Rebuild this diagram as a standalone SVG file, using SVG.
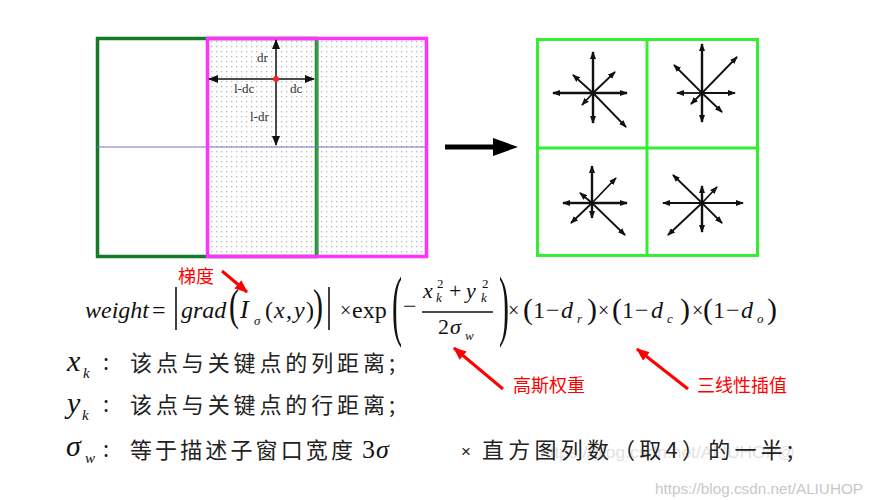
<svg xmlns="http://www.w3.org/2000/svg" width="879" height="500" viewBox="0 0 879 500">
<style>
.m{font-family:"Liberation Serif","Times New Roman",serif;font-size:24px;fill:#111}
.i{font-style:italic}
.s{font-size:13px}
.v{font-size:30px}
.vs{font-size:15px}
.cj{font-family:"Noto Sans CJK SC",sans-serif;font-size:22px;fill:#222}
.red{font-family:"Noto Sans CJK SC",sans-serif;font-size:18px;fill:#f00}
.lbl{font-family:"Liberation Serif",serif;font-size:13px;fill:#333}
.st line{stroke:#111;stroke-width:1.8;marker-end:url(#ah)}
.ra{stroke:#f00;stroke-width:3;marker-end:url(#rh)}
.ia{stroke:#111;stroke-width:1.5;marker-end:url(#bh)}
</style>
<defs>
<pattern id="dots" width="5" height="5" patternUnits="userSpaceOnUse">
<rect x="1" y="1" width="1.3" height="1.3" fill="#b8b8b8"/>
</pattern>
<marker id="ah" viewBox="0 0 8 6" refX="7" refY="3" markerWidth="8" markerHeight="6" markerUnits="userSpaceOnUse" orient="auto"><path d="M0,0 L8,3 L0,6 z" fill="#111"/></marker>
<marker id="bh" viewBox="0 0 10 8" refX="9" refY="4" markerWidth="10" markerHeight="8" markerUnits="userSpaceOnUse" orient="auto"><path d="M0,0 L10,4 L0,8 z" fill="#111"/></marker>
<marker id="rh" viewBox="0 0 12 10" refX="11" refY="5" markerWidth="13" markerHeight="11" markerUnits="userSpaceOnUse" orient="auto"><path d="M0,0 L12,5 L0,10 z" fill="#f00"/></marker>
</defs>
<rect width="879" height="500" fill="#fff"/>

<g id="left-grid">
<rect x="97.5" y="38.5" width="219" height="218" fill="#fff" stroke="#157a28" stroke-width="3.5"/>
<rect x="207" y="38" width="220" height="219" fill="url(#dots)"/>
<line x1="317" y1="40" x2="317" y2="255" stroke="#3c9a4a" stroke-width="3"/>
<line x1="97" y1="147" x2="427" y2="147" stroke="#7070cc" stroke-width="1"/>
<rect x="207.5" y="38.5" width="219" height="218" fill="none" stroke="#ff33ff" stroke-width="3.5"/>
<line class="ia" x1="276" y1="79" x2="276" y2="40"/>
<line class="ia" x1="276" y1="79" x2="276" y2="145"/>
<line class="ia" x1="276" y1="79" x2="209" y2="79"/>
<line class="ia" x1="276" y1="79" x2="314" y2="79"/>
<circle cx="276" cy="79" r="3" fill="#f22"/>
<text class="lbl" x="257" y="62">dr</text>
<text class="lbl" x="234" y="93">l-dc</text>
<text class="lbl" x="290" y="93">dc</text>
<text class="lbl" x="250" y="121">l-dr</text>
</g>

<g id="big-arrow">
<rect x="445" y="144.5" width="50" height="5" fill="#000"/>
<polygon points="493,138 518,147 493,156" fill="#000"/>
</g>

<g id="right-grid">
<rect x="537.5" y="39.5" width="220" height="216" fill="#fff" stroke="#33ee33" stroke-width="3"/>
<line x1="647" y1="39" x2="647" y2="256" stroke="#33ee33" stroke-width="3"/>
<line x1="537" y1="148" x2="758" y2="148" stroke="#33ee33" stroke-width="3"/>
<g class="st">
<line x1="593" y1="93" x2="553" y2="93" style="stroke-width:2.4"/>
<line x1="593" y1="93" x2="627" y2="93" style="stroke-width:2.4"/>
<line x1="593" y1="93" x2="593" y2="52" style="stroke-width:2.4"/>
<line x1="593" y1="93" x2="593" y2="123" style="stroke-width:2.4"/>
<line x1="593" y1="93" x2="615" y2="72"/>
<line x1="593" y1="93" x2="573" y2="75"/>
<line x1="593" y1="93" x2="582" y2="105"/>
<line x1="593" y1="93" x2="626" y2="127"/>
</g>
<g class="st">
<line x1="702" y1="93" x2="677" y2="93"/>
<line x1="702" y1="93" x2="735" y2="93"/>
<line x1="702" y1="93" x2="702" y2="44" style="stroke-width:2.4"/>
<line x1="702" y1="93" x2="702" y2="122" style="stroke-width:2.4"/>
<line x1="702" y1="93" x2="737" y2="57"/>
<line x1="702" y1="93" x2="674" y2="65"/>
<line x1="702" y1="93" x2="691" y2="104"/>
<line x1="702" y1="93" x2="722" y2="112"/>
</g>
<g class="st">
<line x1="592" y1="203" x2="563" y2="203" style="stroke-width:2.4"/>
<line x1="592" y1="203" x2="627" y2="203" style="stroke-width:2.4"/>
<line x1="592" y1="203" x2="592" y2="166" style="stroke-width:2.4"/>
<line x1="592" y1="203" x2="592" y2="218" style="stroke-width:2.4"/>
<line x1="592" y1="203" x2="616" y2="178"/>
<line x1="592" y1="203" x2="580" y2="193"/>
<line x1="592" y1="203" x2="571" y2="223"/>
<line x1="592" y1="203" x2="625" y2="235"/>
</g>
<g class="st">
<line x1="702" y1="203" x2="663" y2="203"/>
<line x1="702" y1="203" x2="743" y2="203"/>
<line x1="702" y1="203" x2="702" y2="186" style="stroke-width:2.4"/>
<line x1="702" y1="203" x2="702" y2="232" style="stroke-width:2.4"/>
<line x1="702" y1="203" x2="717" y2="187"/>
<line x1="702" y1="203" x2="673" y2="175"/>
<line x1="702" y1="203" x2="668" y2="235"/>
<line x1="702" y1="203" x2="722" y2="223"/>
</g>
</g>

<g id="formula">
<text class="m i" x="85" y="318">weight</text>
<text class="m" x="152" y="318">=</text>
<line x1="176" y1="287" x2="176" y2="330" stroke="#111" stroke-width="1.6"/>
<text class="m i" x="181" y="318">grad</text>
<text class="m" transform="translate(229,320) scale(1,1.45)" style="font-size:30px">(</text>
<text class="m i" x="240" y="318" style="font-size:26px">I</text>
<text class="m i s" x="254" y="325">σ</text>
<text class="m" x="265" y="318">(</text>
<text class="m i" x="274" y="318">x</text>
<text class="m" x="286" y="318">,</text>
<text class="m i" x="294" y="318">y</text>
<text class="m" x="306" y="318">)</text>
<text class="m" transform="translate(313,320) scale(1,1.45)" style="font-size:30px">)</text>
<line x1="329" y1="287" x2="329" y2="330" stroke="#111" stroke-width="1.6"/>
<text class="m" x="340" y="317" style="font-size:20px">×</text>
<text class="m" x="352" y="318">exp</text>
<text class="m" transform="translate(392,331) scale(1,2.6)" style="font-size:30px">(</text>
<text class="m" x="403" y="314">−</text>
<text class="m i" x="423" y="298" style="font-size:22px">x</text>
<text class="m i s" x="436" y="302">k</text>
<text class="m s" x="437" y="288">2</text>
<text class="m" x="449" y="298" style="font-size:22px">+</text>
<text class="m i" x="466" y="298" style="font-size:22px">y</text>
<text class="m i s" x="481" y="302">k</text>
<text class="m s" x="482" y="288">2</text>
<line x1="422" y1="312" x2="493" y2="312" stroke="#111" stroke-width="1.3"/>
<text class="m" x="438" y="334" style="font-size:22px">2</text>
<text class="m i" x="450" y="334" style="font-size:22px">σ</text>
<text class="m i s" x="465" y="340">w</text>
<text class="m" transform="translate(499,331) scale(1,2.6)" style="font-size:30px">)</text>
<text class="m" x="508" y="317" style="font-size:20px">×</text>
<text class="m" x="523" y="319" style="font-size:30px">(</text>
<text class="m" x="533" y="318">1</text>
<text class="m" x="546" y="318">−</text>
<text class="m i" x="561" y="318">d</text>
<text class="m i s" x="577" y="323">r</text>
<text class="m" x="587" y="319" style="font-size:30px">)</text>
<text class="m" x="598" y="317" style="font-size:20px">×</text>
<text class="m" x="612" y="319" style="font-size:30px">(</text>
<text class="m" x="622" y="318">1</text>
<text class="m" x="635" y="318">−</text>
<text class="m i" x="651" y="318">d</text>
<text class="m i s" x="667" y="323">c</text>
<text class="m" x="680" y="319" style="font-size:30px">)</text>
<text class="m" x="692" y="317" style="font-size:20px">×</text>
<text class="m" x="703" y="319" style="font-size:30px">(</text>
<text class="m" x="713" y="318">1</text>
<text class="m" x="726" y="318">−</text>
<text class="m i" x="741" y="318">d</text>
<text class="m i s" x="757" y="323">o</text>
<text class="m" x="767" y="319" style="font-size:30px">)</text>
</g>

<g id="annotations">
<text class="red" x="178" y="283">梯度</text>
<line class="ra" x1="222" y1="271" x2="247" y2="292"/>
<text class="red" x="513" y="392">高斯权重</text>
<line class="ra" x1="503" y1="389" x2="454" y2="348"/>
<text class="red" x="697" y="392">三线性插值</text>
<line class="ra" x1="688" y1="389" x2="637" y2="349"/>
</g>

<g id="notes">
<text x="540" y="458" font-family="Liberation Sans,Arial,sans-serif" font-size="17" fill="#e2e2e2" textLength="255" lengthAdjust="spacingAndGlyphs">https://blog.csdn.net/ALIUHOP@</text>
<text class="m i v" x="67" y="371">x</text>
<text class="m i vs" x="83" y="378">k</text>
<text class="cj" x="103" y="370">:</text>
<text class="cj" x="130" y="371" textLength="265" lengthAdjust="spacing">该点与关键点的列距离;</text>
<text class="m i v" x="67" y="413">y</text>
<text class="m i vs" x="82" y="420">k</text>
<text class="cj" x="103" y="412">:</text>
<text class="cj" x="130" y="413" textLength="265" lengthAdjust="spacing">该点与关键点的行距离;</text>
<text class="m i v" x="66" y="456">σ</text>
<text class="m i vs" x="85" y="463">w</text>
<text class="cj" x="103" y="457">:</text>
<text class="cj" x="130" y="458" textLength="223" lengthAdjust="spacing">等于描述子窗口宽度</text>
<text class="m" x="362" y="458" style="font-size:26px">3</text>
<text class="m i" x="376" y="458" style="font-size:26px">σ</text>
<text x="461" y="457" font-family="Liberation Sans,Arial,sans-serif" font-size="17" fill="#222">×</text>
<text class="cj" x="482" y="458" textLength="311" lengthAdjust="spacing">直方图列数（取4）的一半;</text>
<text x="655" y="494" font-family="Liberation Sans,Arial,sans-serif" font-size="15" fill="#c8c8c8" textLength="208" lengthAdjust="spacingAndGlyphs">https://blog.csdn.net/ALIUHOP</text>
</g>
</svg>
